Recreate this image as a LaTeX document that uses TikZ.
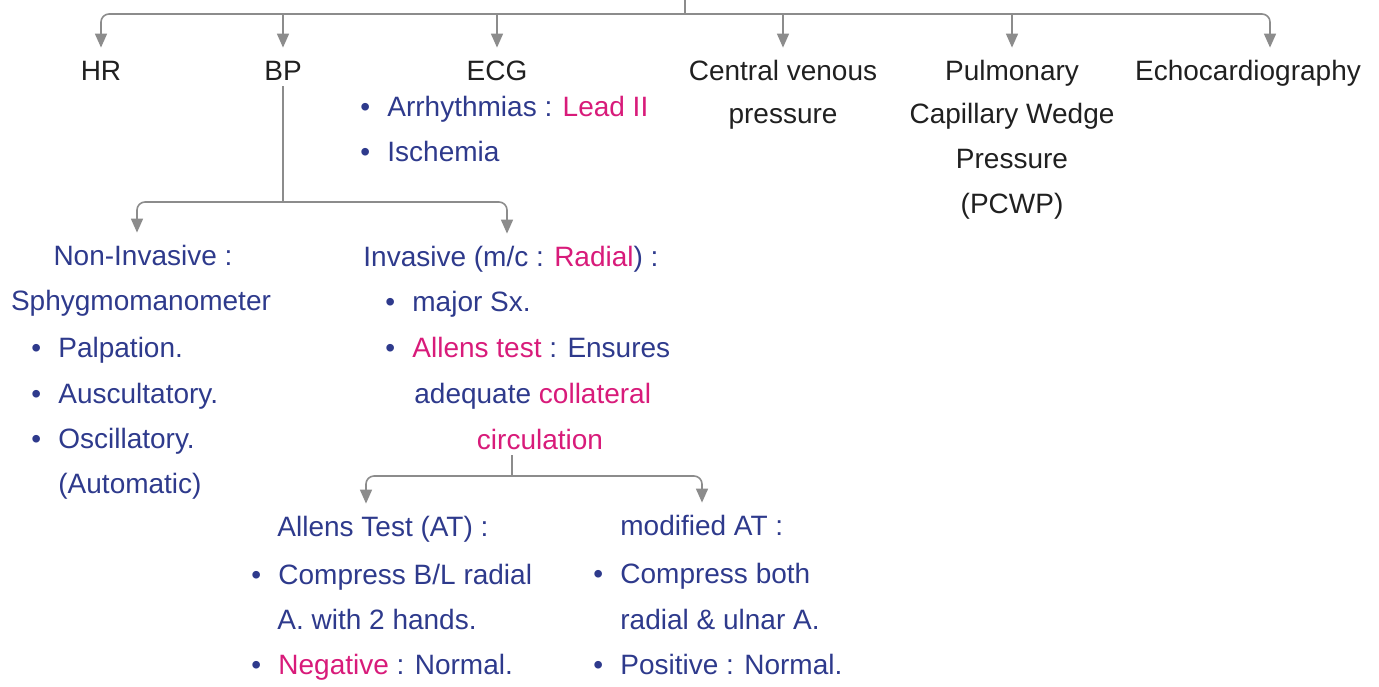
\documentclass[tikz,border=0pt]{standalone}
\usepackage{fontspec}
\setmainfont{Liberation Sans}
\usetikzlibrary{arrows.meta}
\definecolor{inkblue}{HTML}{2E3A8C}
\definecolor{inkpink}{HTML}{D81B7A}
\definecolor{inkblack}{HTML}{202020}
\definecolor{linegray}{HTML}{8C8C8C}
\newcommand{\pk}[1]{\textcolor{inkpink}{#1}}
\newcommand{\bl}{\makebox[13.5pt][l]{\textbullet}}
\begin{document}
\begin{tikzpicture}[x=0.5pt,y=-0.5pt,
  lbl/.style={inner sep=0pt, text height=10pt, text depth=3pt, font=\fontsize{14pt}{16pt}\selectfont},
  toplbl/.style={lbl, anchor=base, text=inkblack},
  bluec/.style={lbl, anchor=base, text=inkblue},
  bluel/.style={lbl, anchor=base west, text=inkblue},
  pinkc/.style={lbl, anchor=base, text=inkpink},
  plainline/.style={draw=linegray, line width=0.8pt},
  conn/.style={plainline, -{Triangle[length=7pt,width=6pt]}, shorten >=6pt},
  endconn/.style={conn, rounded corners=4pt}
]
\useasboundingbox (0,0) rectangle (1379,686);

% ---- top row
\node[toplbl] (hr) at (101,80) {HR};
\node[toplbl] (bp) at (283,80) {BP};
\node[toplbl] (ecg) at (497,80) {ECG};
\node[toplbl] (cvp1) at (783,80) {Central venous};
\node[toplbl] (cvp2) at (783,123) {pressure};
\node[toplbl] (pc1) at (1012,80) {Pulmonary};
\node[toplbl] (pc2) at (1012,123) {Capillary Wedge};
\node[toplbl] (pc3) at (1012,168) {Pressure};
\node[toplbl] (pc4) at (1012,213) {(PCWP)};
\node[toplbl] (echo) at (1248,80) {Echocardiography};

\coordinate (top) at (685,0);
\coordinate (jn) at (685,14);
\draw[plainline] (top) -- (jn);
\draw[endconn] (jn) -| (hr.north);
\draw[conn] (jn) -| (bp.north);
\draw[conn] (jn) -| (ecg.north);
\draw[conn] (jn) -| (cvp1.north);
\draw[conn] (jn) -| (pc1.north);
\draw[endconn] (jn) -| ([xshift=11pt]echo.north);

% ---- ECG
\node[bluel] (e1) at (360,116) {\bl Arrhythmias : \pk{Lead II}};
\node[bluel] (e2) at (360,161) {\bl Ischemia};

% ---- BP branch
\coordinate (bpj) at (283,202);
\draw[plainline] (bp.south) -- (bpj);

\node[bluec] (ni) at (143,265) {Non-Invasive :};
\node[bluec] (sph) at (141,310) {Sphygmomanometer};
\node[bluel] (n1) at (31,357) {\bl Palpation.};
\node[bluel] (n2) at (31,403) {\bl Auscultatory.};
\node[bluel] (n3) at (31,448) {\bl Oscillatory.};
\node[bluel] (n4) at (58,493) {(Automatic)};

\node[bluel] (inv) at (363,266) {Invasive (m/c : \pk{Radial}) :};
\node[bluel] (i1) at (385,311) {\bl major Sx.};
\node[bluel] (i2) at (385,357) {\bl \pk{Allens test} : Ensures};
\node[bluel] (i3) at (414,403) {adequate \pk{collateral}};
\node[pinkc] (circ) at (540,449) {circulation};

\draw[endconn] (bpj) -| ([xshift=-3pt]ni.north);
\draw[endconn] (bpj) -| ([xshift=72pt]inv.north west);

% ---- Allen's test branch
\coordinate (cj) at (512,476);
\draw[plainline] (circ.south -| cj) -- (cj);

\node[bluel] (at1) at (277,536) {Allens Test (AT) :};
\node[bluel] (a1) at (251,584) {\bl Compress B/L radial};
\node[bluel] (a2) at (277,629) {A. with 2 hands.};
\node[bluel] (a3) at (251,674) {\bl \pk{Negative} : Normal.};

\node[bluel] (mat) at (620,535) {modified AT :};
\node[bluel] (m1) at (593,583) {\bl Compress both};
\node[bluel] (m2) at (620,629) {radial \& ulnar A.};
\node[bluel] (m3) at (593,674) {\bl Positive : Normal.};

\draw[endconn] (cj) -| ([xshift=44.5pt]at1.north west);
\draw[endconn] (cj) -| ([xshift=41pt]mat.north west);
\end{tikzpicture}
\end{document}
